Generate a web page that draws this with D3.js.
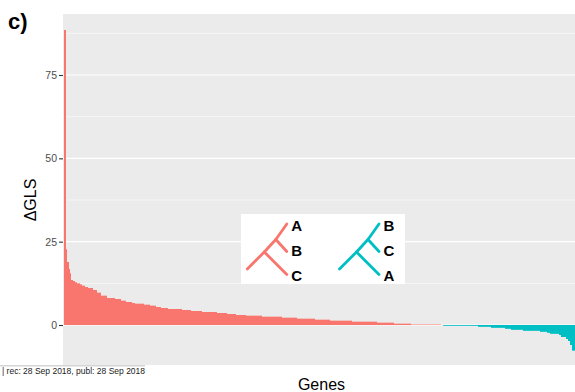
<!DOCTYPE html>
<html>
<head>
<meta charset="utf-8">
<script src="https://cdn.jsdelivr.net/npm/d3@7"></script>
<style>
  body { margin: 0; background: #fff; }
  svg { display: block; font-family: "Liberation Sans", Arial, sans-serif; }
</style>
</head>
<body>
<svg id="chart" width="575" height="392"></svg>
<script>
// ΔGLS per gene, sorted (value, number of genes)
const stepValues = [88.5, 22.7, 18.9, 16.8, 15.5, 13.5, 13.2, 12.8, 12.5, 12.2,
  11.8, 11.4, 11.1, 10.5, 9.7, 8.8, 8.1, 7.8, 7.3, 6.9,
  6.6, 6.4, 6.1, 5.8, 5.4, 5.1, 4.8, 4.5, 4.2, 3.9,
  3.6, 3.3, 3.0, 2.8, 2.5, 2.2, 1.9, 1.6, 1.3, 1.0,
  0.7, 0.4, 0.15, 0, -0.25, -0.55, -0.85, -1.15, -1.45, -1.75,
  -2.05, -2.35, -2.65, -3.0, -3.6, -4.2, -4.8, -6.0, -7.7];
const stepCounts = [2, 1, 2, 1, 1, 2, 2, 2, 3, 2,
  3, 3, 5, 4, 4, 6, 8, 6, 5, 6,
  3, 9, 6, 6, 5, 7, 14, 9, 11, 15,
  10, 9, 10, 16, 20, 15, 18, 15, 22, 25,
  17, 17, 30, 2, 35, 13, 14, 6, 12, 17,
  7, 3, 9, 2, 5, 2, 2, 2, 3];
const yTicks = [0, 25, 50, 75];
const yMinor = [12.5, 37.5, 62.5, 87.5];
const treeLeft = ["A", "B", "C"];
const treeRight = ["B", "C", "A"];

const genes = [];
stepValues.forEach((v, i) => {
  for (let k = 0; k < stepCounts[i]; k++) genes.push({ id: genes.length, gls: v });
});

const svg = d3.select('#chart');
const panel = { left: 63, right: 575, top: 14, bottom: 365 };
const salmon = '#F8766D', teal = '#00BFC4';

const x = d3.scaleBand()
  .domain(genes.map(d => d.id))
  .range([64, 575])
  .padding(0);

const y = d3.scaleLinear()
  .domain([-12, 93.3])
  .range([panel.bottom, panel.top]);

// panel background
svg.append('rect')
  .attr('x', panel.left).attr('y', panel.top)
  .attr('width', panel.right - panel.left).attr('height', panel.bottom - panel.top)
  .attr('fill', '#EBEBEB');

// grid
svg.selectAll('line.minor')
  .data(yMinor)
  .enter()
  .append('line')
  .attr('x1', panel.left).attr('x2', panel.right)
  .attr('y1', d => y(d)).attr('y2', d => y(d))
  .attr('stroke', '#fff').attr('stroke-width', 0.55);

svg.selectAll('line.major')
  .data(yTicks)
  .enter()
  .append('line')
  .attr('x1', panel.left).attr('x2', panel.right)
  .attr('y1', d => y(d)).attr('y2', d => y(d))
  .attr('stroke', '#fff').attr('stroke-width', 1.1);

// bars
svg.append('g')
  .selectAll('rect')
  .data(genes.filter(d => d.gls !== 0))
  .enter()
  .append('rect')
  .attr('x', d => x(d.id))
  .attr('width', x.bandwidth())
  .attr('y', d => y(Math.max(0, d.gls)))
  .attr('height', d => Math.abs(y(d.gls) - y(0)))
  .attr('fill', d => d.gls > 0 ? salmon : teal);

// y axis
const yAxis = d3.axisLeft(y).tickValues(yTicks).tickSize(4).tickPadding(2);
const ag = svg.append('g')
  .attr('transform', `translate(${panel.left},0)`)
  .call(yAxis);
ag.select('.domain').remove();
ag.selectAll('.tick line').attr('stroke', '#333').attr('stroke-width', 1.1);
ag.selectAll('.tick text')
  .attr('fill', '#4D4D4D')
  .style('font-size', '10.5px')
  .style('font-family', '"Liberation Sans", Arial, sans-serif');

// axis titles
svg.append('text')
  .attr('transform', 'translate(36,200) rotate(-90)')
  .attr('text-anchor', 'middle')
  .style('font-size', '16px')
  .text('ΔGLS');

svg.append('text')
  .attr('x', 321.5).attr('y', 390)
  .attr('text-anchor', 'middle')
  .style('font-size', '16px')
  .text('Genes');

// panel tag
svg.append('text')
  .attr('x', 8).attr('y', 29)
  .style('font-size', '22px')
  .style('font-weight', 'bold')
  .text('c)');

// legend with the two topologies
svg.append('rect')
  .attr('x', 241).attr('y', 214)
  .attr('width', 164).attr('height', 70)
  .attr('fill', '#fff');

function drawTree(x0, labels, colour) {
  // root, inner node, second inner node, three tips (top, middle, bottom)
  const root = [x0, 269], n1 = [x0 + 17, 252], n2 = [x0 + 28.5, 239.5];
  const tips = [[x0 + 39.5, 224], [x0 + 39.5, 251.5], [x0 + 39.5, 274.5]];
  const segs = [[root, n1], [n1, tips[2]], [n1, n2], [n2, tips[0]], [n2, tips[1]]];
  const g = svg.append('g');
  g.selectAll('line')
    .data(segs)
    .enter()
    .append('line')
    .attr('x1', d => d[0][0]).attr('y1', d => d[0][1])
    .attr('x2', d => d[1][0]).attr('y2', d => d[1][1])
    .attr('stroke', colour)
    .attr('stroke-width', 2.8)
    .attr('stroke-linecap', 'round');
  g.selectAll('text')
    .data(labels)
    .enter()
    .append('text')
    .attr('x', x0 + 44)
    .attr('y', (d, i) => [231, 256, 281][i])
    .style('font-size', '15px')
    .style('font-weight', 'bold')
    .text(d => d);
}
drawTree(247.3, treeLeft, salmon);
drawTree(339.5, treeRight, teal);

// footer strip
svg.append('line')
  .attr('x1', 0).attr('x2', 145)
  .attr('y1', 366).attr('y2', 366)
  .attr('stroke', '#aaa').attr('stroke-width', 1);
svg.append('rect')
  .attr('x', 0).attr('y', 366.5)
  .attr('width', 146).attr('height', 10)
  .attr('fill', '#fff');
svg.append('text')
  .attr('x', 2).attr('y', 374)
  .style('font-size', '8.5px')
  .attr('fill', '#222')
  .text('| rec: 28 Sep 2018, publ: 28 Sep 2018');
</script>
</body>
</html>
